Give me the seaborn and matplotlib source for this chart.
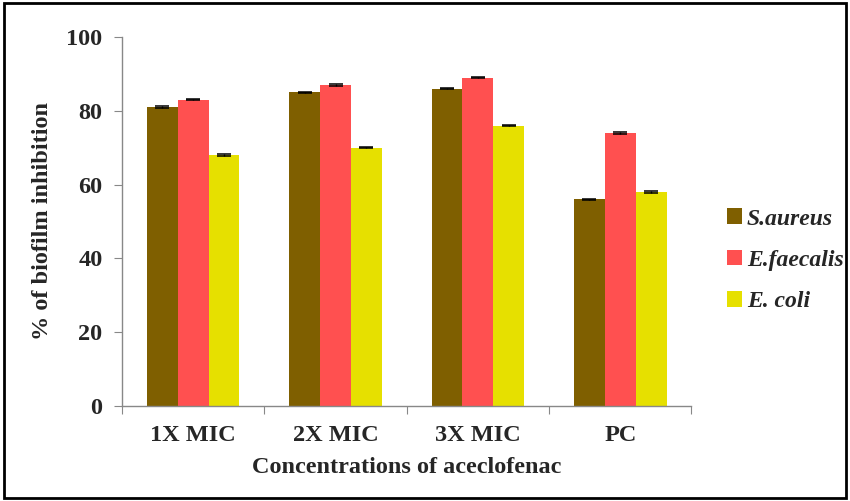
import pandas as pd
import matplotlib.pyplot as plt
import seaborn as sns
from matplotlib.patches import Rectangle

groups = ['1X MIC', '2X MIC', '3X MIC', 'PC']
species = ['S.aureus', 'E.faecalis', 'E. coli']
s_aureus = [81, 85, 86, 56]
e_faecalis = [83, 87, 89, 74]
e_coli = [68, 70, 76, 58]
err = [0.2, 0.2, 0.2, 0.2]

colors = ['#7F5F00', '#FF5050', '#E6E000']

df = pd.DataFrame({
    'group': groups * 3,
    'species': [species[0]] * 4 + [species[1]] * 4 + [species[2]] * 4,
    'value': s_aureus + e_faecalis + e_coli,
})

sns.set_style('white')
plt.rcParams['font.family'] = ['Liberation Serif', 'DejaVu Serif']
plt.rcParams['font.weight'] = 'bold'

fig = plt.figure(figsize=(8.5, 5.01), dpi=100)
ax = fig.add_axes([0.1435, 0.19, 0.670, 0.736])

sns.barplot(data=df, x='group', y='value', hue='species', palette=colors,
            order=groups, hue_order=species, width=0.65, errorbar=None,
            saturation=1, linewidth=0, ax=ax)

# small error bars
errs = err * 3
for patch, e in zip(ax.patches[:12], errs):
    x = patch.get_x() + patch.get_width() / 2
    ax.errorbar(x, patch.get_height(), yerr=e, fmt='none', ecolor='black',
                capsize=5, elinewidth=1, capthick=1.1)

ax.set_xlim(-0.5, 3.5)
ax.set_ylim(0, 100)
ax.set_yticks([0, 20, 40, 60, 80, 100])
ax.set_xticks([-0.5, 0.5, 1.5, 2.5, 3.5], minor=False)
ax.set_xticklabels([])
ax.set_xticks(range(4), minor=True)
ax.set_xticklabels(groups, minor=True, fontsize=17.5, fontweight='bold')
ax.tick_params(axis='x', which='minor', length=0, pad=14)
ax.tick_params(axis='x', which='major', direction='out', length=6, color='#888888', bottom=True)
ax.tick_params(axis='y', direction='out', length=6, color='#888888', left=True,
               labelsize=17.5, pad=8)
for t in ax.get_yticklabels():
    t.set_fontweight('bold')

for side in ['top', 'right']:
    ax.spines[side].set_visible(False)
for side in ['left', 'bottom']:
    ax.spines[side].set_color('#888888')
    ax.spines[side].set_linewidth(1)

ax.set_xlabel('Concentrations of aceclofenac', fontsize=17.5, fontweight='bold', labelpad=8)
ax.set_ylabel('% of biofilm inhibition', fontsize=17.5, fontweight='bold', labelpad=10)

leg = ax.legend(loc='center left', bbox_to_anchor=(1.025, 0.395), frameon=False,
                prop={'size': 17, 'weight': 'bold', 'style': 'italic'},
                handlelength=0.65, handleheight=0.65, handletextpad=0.2,
                labelspacing=0.85)

fig.patches.append(Rectangle((0.005, 0.006), 0.99, 0.988, transform=fig.transFigure,
                             fill=False, edgecolor='black', linewidth=2))

fig.savefig('out.png', dpi=100)
